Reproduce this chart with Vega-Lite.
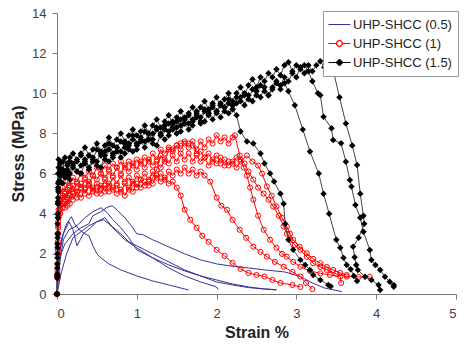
{
"$schema":"https://vega.github.io/schema/vega-lite/v6.json",
"width":399,"height":281,"autosize":"none",
"padding":{"left":57,"top":13,"right":9,"bottom":51},
"background":"white",
"config":{"view":{"stroke":null},"font":"Liberation Sans"},
"datasets":{
"blue":[
{"k":1,"x":0,"y":0},{"k":1,"x":0.02,"y":1.2},{"k":1,"x":0.05,"y":2.0},{"k":1,"x":0.1,"y":2.5},{"k":1,"x":0.2,"y":3.0},{"k":1,"x":0.3,"y":3.3},{"k":1,"x":0.4,"y":3.5},{"k":1,"x":0.45,"y":3.9},{"k":1,"x":0.55,"y":4.1},{"k":1,"x":0.62,"y":4.3},{"k":1,"x":0.69,"y":4.4},{"k":1,"x":0.75,"y":4.2},{"k":1,"x":0.85,"y":3.8},{"k":1,"x":0.95,"y":3.3},{"k":1,"x":1.0,"y":3.0},{"k":1,"x":1.08,"y":2.95},{"k":1,"x":1.2,"y":2.7},{"k":1,"x":1.37,"y":2.4},{"k":1,"x":1.6,"y":2.0},{"k":1,"x":1.8,"y":1.7},{"k":1,"x":2.0,"y":1.5},{"k":1,"x":2.2,"y":1.38},{"k":1,"x":2.4,"y":1.3},{"k":1,"x":2.6,"y":1.2},{"k":1,"x":2.85,"y":1.1},{"k":1,"x":3.05,"y":0.87},{"k":1,"x":3.2,"y":0.55},{"k":1,"x":3.35,"y":0.3},{"k":1,"x":3.57,"y":0.12},
{"k":2,"x":0,"y":0},{"k":2,"x":0.03,"y":1.5},{"k":2,"x":0.08,"y":2.7},{"k":2,"x":0.15,"y":3.2},{"k":2,"x":0.25,"y":3.4},{"k":2,"x":0.35,"y":3.8},{"k":2,"x":0.45,"y":4.1},{"k":2,"x":0.55,"y":4.3},{"k":2,"x":0.63,"y":4.05},{"k":2,"x":0.7,"y":3.7},{"k":2,"x":0.8,"y":3.3},{"k":2,"x":0.9,"y":2.8},{"k":2,"x":1.0,"y":2.2},{"k":2,"x":1.2,"y":1.8},{"k":2,"x":1.4,"y":1.45},{"k":2,"x":1.6,"y":1.15},{"k":2,"x":1.8,"y":0.9},{"k":2,"x":2.0,"y":0.7},{"k":2,"x":2.2,"y":0.5},{"k":2,"x":2.4,"y":0.35},{"k":2,"x":2.6,"y":0.25},{"k":2,"x":2.75,"y":0.2},
{"k":3,"x":0,"y":0},{"k":3,"x":0.02,"y":1.8},{"k":3,"x":0.06,"y":2.8},{"k":3,"x":0.12,"y":3.5},{"k":3,"x":0.18,"y":3.85},{"k":3,"x":0.22,"y":3.5},{"k":3,"x":0.28,"y":3.2},{"k":3,"x":0.35,"y":3.0},{"k":3,"x":0.4,"y":2.9},{"k":3,"x":0.45,"y":2.4},{"k":3,"x":0.5,"y":2.0},{"k":3,"x":0.55,"y":1.8},{"k":3,"x":0.65,"y":1.5},{"k":3,"x":0.8,"y":1.2},{"k":3,"x":1.0,"y":0.9},{"k":3,"x":1.2,"y":0.65},{"k":3,"x":1.4,"y":0.45},{"k":3,"x":1.6,"y":0.25},{"k":3,"x":1.65,"y":0.2},
{"k":4,"x":0,"y":0},{"k":4,"x":0.03,"y":2.0},{"k":4,"x":0.08,"y":3.0},{"k":4,"x":0.15,"y":3.6},{"k":4,"x":0.2,"y":3.2},{"k":4,"x":0.25,"y":2.4},{"k":4,"x":0.33,"y":3.0},{"k":4,"x":0.42,"y":3.3},{"k":4,"x":0.5,"y":3.6},{"k":4,"x":0.58,"y":3.7},{"k":4,"x":0.65,"y":3.5},{"k":4,"x":0.75,"y":3.1},{"k":4,"x":0.85,"y":2.7},{"k":4,"x":1.0,"y":2.3},{"k":4,"x":1.2,"y":1.8},{"k":4,"x":1.4,"y":1.3},{"k":4,"x":1.6,"y":0.9},{"k":4,"x":1.8,"y":0.6},{"k":4,"x":2.0,"y":0.35},{"k":4,"x":2.02,"y":0.22},
{"k":5,"x":0,"y":0},{"k":5,"x":0.05,"y":1.0},{"k":5,"x":0.12,"y":2.0},{"k":5,"x":0.2,"y":2.8},{"k":5,"x":0.3,"y":3.1},{"k":5,"x":0.4,"y":3.4},{"k":5,"x":0.5,"y":3.6},{"k":5,"x":0.6,"y":3.8},{"k":5,"x":0.68,"y":3.4},{"k":5,"x":0.8,"y":3.0},{"k":5,"x":0.9,"y":2.6},{"k":5,"x":1.0,"y":2.4},{"k":5,"x":1.2,"y":2.0},{"k":5,"x":1.4,"y":1.6},{"k":5,"x":1.6,"y":1.2},{"k":5,"x":1.8,"y":0.9},{"k":5,"x":2.0,"y":0.6},{"k":5,"x":2.2,"y":0.45},{"k":5,"x":2.4,"y":0.32},{"k":5,"x":2.6,"y":0.25},{"k":5,"x":2.75,"y":0.22}
],
"red":[
{"k":1,"x":0,"y":0},{"k":1,"x":0.005,"y":0.8},{"k":1,"x":0.01,"y":2.0},{"k":1,"x":0.015,"y":3.0},{"k":1,"x":0.02,"y":3.8},{"k":1,"x":0.04,"y":4.0},{"k":1,"x":0.07,"y":4.3},{"k":1,"x":0.1,"y":4.6},{"k":1,"x":0.13,"y":4.4},{"k":1,"x":0.16,"y":4.9},{"k":1,"x":0.2,"y":4.7},{"k":1,"x":0.25,"y":5.1},{"k":1,"x":0.3,"y":4.8},{"k":1,"x":0.35,"y":5.2},{"k":1,"x":0.4,"y":4.9},{"k":1,"x":0.45,"y":5.3},{"k":1,"x":0.5,"y":5.0},{"k":1,"x":0.55,"y":5.4},{"k":1,"x":0.6,"y":5.1},{"k":1,"x":0.65,"y":5.5},{"k":1,"x":0.7,"y":5.2},{"k":1,"x":0.75,"y":5.4},{"k":1,"x":0.8,"y":5.1},{"k":1,"x":0.85,"y":5.5},{"k":1,"x":0.9,"y":5.2},{"k":1,"x":0.95,"y":5.6},{"k":1,"x":1.0,"y":5.3},{"k":1,"x":1.05,"y":5.7},{"k":1,"x":1.1,"y":5.4},{"k":1,"x":1.15,"y":5.6},{"k":1,"x":1.2,"y":5.5},{"k":1,"x":1.25,"y":5.9},{"k":1,"x":1.3,"y":5.6},{"k":1,"x":1.35,"y":5.8},{"k":1,"x":1.4,"y":5.5},{"k":1,"x":1.45,"y":5.6},{"k":1,"x":1.5,"y":5.3},{"k":1,"x":1.55,"y":4.9},{"k":1,"x":1.6,"y":4.2},{"k":1,"x":1.67,"y":3.7},{"k":1,"x":1.75,"y":3.3},{"k":1,"x":1.82,"y":2.9},{"k":1,"x":1.9,"y":2.6},{"k":1,"x":2.0,"y":2.2},{"k":1,"x":2.1,"y":1.9},{"k":1,"x":2.2,"y":1.55},{"k":1,"x":2.3,"y":1.25},{"k":1,"x":2.4,"y":1.05},{"k":1,"x":2.5,"y":0.95},{"k":1,"x":2.6,"y":0.87},{"k":1,"x":2.7,"y":0.7},{"k":1,"x":2.8,"y":0.55},{"k":1,"x":2.95,"y":0.45},{"k":1,"x":3.05,"y":0.35},
{"k":2,"x":0,"y":0},{"k":2,"x":0.005,"y":1.2},{"k":2,"x":0.01,"y":2.6},{"k":2,"x":0.015,"y":3.6},{"k":2,"x":0.02,"y":4.2},{"k":2,"x":0.04,"y":4.5},{"k":2,"x":0.07,"y":4.9},{"k":2,"x":0.1,"y":4.7},{"k":2,"x":0.13,"y":5.2},{"k":2,"x":0.16,"y":5.0},{"k":2,"x":0.2,"y":5.4},{"k":2,"x":0.25,"y":5.1},{"k":2,"x":0.3,"y":5.5},{"k":2,"x":0.35,"y":5.3},{"k":2,"x":0.4,"y":5.6},{"k":2,"x":0.45,"y":5.2},{"k":2,"x":0.5,"y":5.5},{"k":2,"x":0.55,"y":5.3},{"k":2,"x":0.6,"y":5.7},{"k":2,"x":0.65,"y":5.4},{"k":2,"x":0.7,"y":5.8},{"k":2,"x":0.75,"y":5.5},{"k":2,"x":0.8,"y":5.9},{"k":2,"x":0.85,"y":5.6},{"k":2,"x":0.9,"y":5.8},{"k":2,"x":0.95,"y":5.5},{"k":2,"x":1.0,"y":5.9},{"k":2,"x":1.05,"y":5.7},{"k":2,"x":1.1,"y":6.0},{"k":2,"x":1.15,"y":5.7},{"k":2,"x":1.2,"y":6.1},{"k":2,"x":1.25,"y":5.8},{"k":2,"x":1.3,"y":6.0},{"k":2,"x":1.35,"y":5.7},{"k":2,"x":1.4,"y":6.1},{"k":2,"x":1.45,"y":5.9},{"k":2,"x":1.5,"y":6.2},{"k":2,"x":1.55,"y":6.0},{"k":2,"x":1.6,"y":6.3},{"k":2,"x":1.65,"y":6.0},{"k":2,"x":1.7,"y":6.2},{"k":2,"x":1.75,"y":5.9},{"k":2,"x":1.8,"y":6.1},{"k":2,"x":1.85,"y":5.9},{"k":2,"x":1.92,"y":5.6},{"k":2,"x":2.0,"y":4.8},{"k":2,"x":2.06,"y":4.4},{"k":2,"x":2.13,"y":4.2},{"k":2,"x":2.2,"y":3.7},{"k":2,"x":2.29,"y":3.2},{"k":2,"x":2.37,"y":2.8},{"k":2,"x":2.46,"y":2.36},{"k":2,"x":2.55,"y":2.1},{"k":2,"x":2.63,"y":1.86},{"k":2,"x":2.73,"y":1.6},{"k":2,"x":2.84,"y":1.36},{"k":2,"x":2.95,"y":1.1},{"k":2,"x":3.05,"y":0.87},{"k":2,"x":3.12,"y":0.55},{"k":2,"x":3.2,"y":0.25},
{"k":3,"x":0,"y":0},{"k":3,"x":0.005,"y":1.5},{"k":3,"x":0.01,"y":3.0},{"k":3,"x":0.015,"y":4.0},{"k":3,"x":0.02,"y":4.6},{"k":3,"x":0.04,"y":4.9},{"k":3,"x":0.07,"y":5.3},{"k":3,"x":0.1,"y":5.1},{"k":3,"x":0.13,"y":5.6},{"k":3,"x":0.16,"y":5.4},{"k":3,"x":0.2,"y":5.8},{"k":3,"x":0.25,"y":5.6},{"k":3,"x":0.3,"y":6.0},{"k":3,"x":0.35,"y":5.8},{"k":3,"x":0.4,"y":6.1},{"k":3,"x":0.45,"y":5.9},{"k":3,"x":0.5,"y":6.3},{"k":3,"x":0.55,"y":6.0},{"k":3,"x":0.6,"y":6.4},{"k":3,"x":0.65,"y":6.2},{"k":3,"x":0.7,"y":6.5},{"k":3,"x":0.75,"y":6.3},{"k":3,"x":0.8,"y":6.6},{"k":3,"x":0.85,"y":6.3},{"k":3,"x":0.9,"y":6.6},{"k":3,"x":0.95,"y":6.4},{"k":3,"x":1.0,"y":6.7},{"k":3,"x":1.05,"y":6.5},{"k":3,"x":1.1,"y":6.8},{"k":3,"x":1.15,"y":6.6},{"k":3,"x":1.2,"y":7.0},{"k":3,"x":1.25,"y":6.7},{"k":3,"x":1.3,"y":7.2},{"k":3,"x":1.35,"y":7.0},{"k":3,"x":1.4,"y":7.3},{"k":3,"x":1.45,"y":7.1},{"k":3,"x":1.5,"y":7.4},{"k":3,"x":1.55,"y":7.2},{"k":3,"x":1.6,"y":7.5},{"k":3,"x":1.65,"y":7.3},{"k":3,"x":1.7,"y":7.4},{"k":3,"x":1.75,"y":7.2},{"k":3,"x":1.8,"y":7.6},{"k":3,"x":1.85,"y":7.3},{"k":3,"x":1.9,"y":7.7},{"k":3,"x":1.95,"y":7.5},{"k":3,"x":2.0,"y":7.9},{"k":3,"x":2.05,"y":7.6},{"k":3,"x":2.1,"y":7.8},{"k":3,"x":2.15,"y":7.5},{"k":3,"x":2.2,"y":7.8},{"k":3,"x":2.23,"y":7.9},{"k":3,"x":2.29,"y":6.9},{"k":3,"x":2.34,"y":6.3},{"k":3,"x":2.38,"y":5.9},{"k":3,"x":2.42,"y":5.3},{"k":3,"x":2.46,"y":4.7},{"k":3,"x":2.52,"y":3.9},{"k":3,"x":2.59,"y":3.2},{"k":3,"x":2.67,"y":2.7},{"k":3,"x":2.75,"y":2.3},{"k":3,"x":2.82,"y":2.0},{"k":3,"x":2.88,"y":1.86},{"k":3,"x":2.96,"y":1.6},{"k":3,"x":3.05,"y":1.36},{"k":3,"x":3.17,"y":1.15},{"k":3,"x":3.3,"y":1.03},{"k":3,"x":3.42,"y":0.95},{"k":3,"x":3.55,"y":0.87},{"k":3,"x":3.56,"y":0.55},
{"k":4,"x":0,"y":0},{"k":4,"x":0.005,"y":1.0},{"k":4,"x":0.01,"y":2.2},{"k":4,"x":0.015,"y":3.3},{"k":4,"x":0.02,"y":4.0},{"k":4,"x":0.04,"y":4.4},{"k":4,"x":0.07,"y":4.8},{"k":4,"x":0.1,"y":5.0},{"k":4,"x":0.13,"y":4.8},{"k":4,"x":0.16,"y":5.3},{"k":4,"x":0.2,"y":5.1},{"k":4,"x":0.25,"y":5.5},{"k":4,"x":0.3,"y":5.3},{"k":4,"x":0.35,"y":5.7},{"k":4,"x":0.4,"y":5.5},{"k":4,"x":0.45,"y":5.9},{"k":4,"x":0.5,"y":5.7},{"k":4,"x":0.55,"y":6.0},{"k":4,"x":0.6,"y":5.8},{"k":4,"x":0.65,"y":6.1},{"k":4,"x":0.7,"y":5.9},{"k":4,"x":0.75,"y":6.3},{"k":4,"x":0.8,"y":6.0},{"k":4,"x":0.85,"y":6.4},{"k":4,"x":0.9,"y":6.1},{"k":4,"x":0.95,"y":6.5},{"k":4,"x":1.0,"y":6.2},{"k":4,"x":1.05,"y":6.6},{"k":4,"x":1.1,"y":6.3},{"k":4,"x":1.15,"y":6.7},{"k":4,"x":1.2,"y":6.4},{"k":4,"x":1.25,"y":6.6},{"k":4,"x":1.3,"y":6.3},{"k":4,"x":1.35,"y":6.7},{"k":4,"x":1.4,"y":6.5},{"k":4,"x":1.45,"y":6.9},{"k":4,"x":1.5,"y":6.6},{"k":4,"x":1.55,"y":7.0},{"k":4,"x":1.6,"y":6.7},{"k":4,"x":1.65,"y":7.0},{"k":4,"x":1.7,"y":6.6},{"k":4,"x":1.75,"y":6.9},{"k":4,"x":1.8,"y":6.6},{"k":4,"x":1.85,"y":6.8},{"k":4,"x":1.9,"y":6.4},{"k":4,"x":1.95,"y":6.7},{"k":4,"x":2.0,"y":6.5},{"k":4,"x":2.05,"y":6.8},{"k":4,"x":2.1,"y":6.4},{"k":4,"x":2.15,"y":6.6},{"k":4,"x":2.2,"y":6.5},{"k":4,"x":2.25,"y":6.8},{"k":4,"x":2.3,"y":6.7},{"k":4,"x":2.35,"y":6.5},{"k":4,"x":2.4,"y":6.1},{"k":4,"x":2.46,"y":5.7},{"k":4,"x":2.52,"y":5.3},{"k":4,"x":2.59,"y":5.0},{"k":4,"x":2.65,"y":4.7},{"k":4,"x":2.71,"y":4.36},{"k":4,"x":2.78,"y":3.9},{"k":4,"x":2.84,"y":3.36},{"k":4,"x":2.88,"y":3.0},{"k":4,"x":2.92,"y":2.7},{"k":4,"x":2.98,"y":2.45},{"k":4,"x":3.05,"y":2.2},{"k":4,"x":3.13,"y":1.85},{"k":4,"x":3.21,"y":1.53},{"k":4,"x":3.3,"y":1.35},{"k":4,"x":3.38,"y":1.2},{"k":4,"x":3.5,"y":1.0},{"k":4,"x":3.63,"y":0.87},{"k":4,"x":3.78,"y":0.85},{"k":4,"x":3.92,"y":0.85},
{"k":5,"x":0,"y":0},{"k":5,"x":0.005,"y":0.9},{"k":5,"x":0.01,"y":2.4},{"k":5,"x":0.015,"y":3.4},{"k":5,"x":0.02,"y":3.9},{"k":5,"x":0.04,"y":4.2},{"k":5,"x":0.07,"y":4.5},{"k":5,"x":0.1,"y":4.3},{"k":5,"x":0.13,"y":4.7},{"k":5,"x":0.16,"y":4.5},{"k":5,"x":0.2,"y":5.0},{"k":5,"x":0.25,"y":4.8},{"k":5,"x":0.3,"y":5.2},{"k":5,"x":0.35,"y":5.0},{"k":5,"x":0.4,"y":5.4},{"k":5,"x":0.45,"y":5.1},{"k":5,"x":0.5,"y":5.3},{"k":5,"x":0.55,"y":5.0},{"k":5,"x":0.6,"y":5.4},{"k":5,"x":0.65,"y":5.1},{"k":5,"x":0.7,"y":5.3},{"k":5,"x":0.75,"y":5.0},{"k":5,"x":0.8,"y":5.2},{"k":5,"x":0.85,"y":4.9},{"k":5,"x":0.9,"y":5.3},{"k":5,"x":0.95,"y":5.1},{"k":5,"x":1.0,"y":5.5},{"k":5,"x":1.05,"y":5.3},{"k":5,"x":1.1,"y":5.6},{"k":5,"x":1.15,"y":5.4},{"k":5,"x":1.2,"y":5.8},{"k":5,"x":1.25,"y":6.2},{"k":5,"x":1.3,"y":6.9},{"k":5,"x":1.35,"y":6.6},{"k":5,"x":1.4,"y":7.2},{"k":5,"x":1.45,"y":7.2},{"k":5,"x":1.5,"y":7.4},{"k":5,"x":1.55,"y":7.5},{"k":5,"x":1.6,"y":7.6},{"k":5,"x":1.65,"y":7.5},{"k":5,"x":1.7,"y":7.6},{"k":5,"x":1.75,"y":7.0},{"k":5,"x":1.8,"y":7.1},{"k":5,"x":1.85,"y":6.8},{"k":5,"x":1.9,"y":7.0},{"k":5,"x":1.95,"y":6.6},{"k":5,"x":2.0,"y":6.9},{"k":5,"x":2.05,"y":6.5},{"k":5,"x":2.1,"y":6.7},{"k":5,"x":2.15,"y":6.4},{"k":5,"x":2.2,"y":6.6},{"k":5,"x":2.25,"y":6.3},{"k":5,"x":2.3,"y":6.6},{"k":5,"x":2.38,"y":6.9},{"k":5,"x":2.45,"y":6.6},{"k":5,"x":2.52,"y":6.4},{"k":5,"x":2.57,"y":6.0},{"k":5,"x":2.63,"y":5.36},{"k":5,"x":2.69,"y":4.9},{"k":5,"x":2.75,"y":4.36},{"k":5,"x":2.82,"y":3.8},{"k":5,"x":2.88,"y":3.36},{"k":5,"x":2.92,"y":3.0},{"k":5,"x":2.96,"y":2.7},{"k":5,"x":3.04,"y":2.35},{"k":5,"x":3.13,"y":2.03},{"k":5,"x":3.21,"y":1.75},{"k":5,"x":3.3,"y":1.53},{"k":5,"x":3.38,"y":1.35},{"k":5,"x":3.46,"y":1.2},{"k":5,"x":3.55,"y":1.05},{"k":5,"x":3.63,"y":0.95}
],
"black":[
{"k":1,"x":0,"y":0},{"k":1,"x":0.003,"y":0.8},{"k":1,"x":0.005,"y":1.5},{"k":1,"x":0.008,"y":2.3},{"k":1,"x":0.01,"y":3},{"k":1,"x":0.013,"y":3.8},{"k":1,"x":0.015,"y":4.5},{"k":1,"x":0.018,"y":5.1},{"k":1,"x":0.02,"y":5.6},{"k":1,"x":0.04,"y":5.9},{"k":1,"x":0.07,"y":5.5},{"k":1,"x":0.1,"y":6.1},{"k":1,"x":0.13,"y":5.9},{"k":1,"x":0.16,"y":5.7},{"k":1,"x":0.2,"y":6.3},{"k":1,"x":0.25,"y":6.1},{"k":1,"x":0.3,"y":6.0},{"k":1,"x":0.35,"y":6.5},{"k":1,"x":0.4,"y":6.2},{"k":1,"x":0.45,"y":6.6},{"k":1,"x":0.5,"y":6.4},{"k":1,"x":0.55,"y":6.3},{"k":1,"x":0.6,"y":6.9},{"k":1,"x":0.65,"y":6.6},{"k":1,"x":0.7,"y":6.8},{"k":1,"x":0.75,"y":7.1},{"k":1,"x":0.8,"y":6.8},{"k":1,"x":0.85,"y":7.0},{"k":1,"x":0.9,"y":7.4},{"k":1,"x":0.95,"y":7.1},{"k":1,"x":1.0,"y":7.2},{"k":1,"x":1.05,"y":7.6},{"k":1,"x":1.1,"y":7.3},{"k":1,"x":1.15,"y":7.7},{"k":1,"x":1.2,"y":7.5},{"k":1,"x":1.25,"y":7.4},{"k":1,"x":1.3,"y":8.0},{"k":1,"x":1.35,"y":7.7},{"k":1,"x":1.4,"y":7.9},{"k":1,"x":1.45,"y":8.3},{"k":1,"x":1.5,"y":8.0},{"k":1,"x":1.55,"y":8.1},{"k":1,"x":1.6,"y":8.5},{"k":1,"x":1.65,"y":8.2},{"k":1,"x":1.7,"y":8.4},{"k":1,"x":1.75,"y":8.8},{"k":1,"x":1.8,"y":8.5},{"k":1,"x":1.85,"y":8.6},{"k":1,"x":1.9,"y":9.0},{"k":1,"x":1.95,"y":8.7},{"k":1,"x":2.0,"y":9.1},{"k":1,"x":2.05,"y":8.8},{"k":1,"x":2.1,"y":9.3},{"k":1,"x":2.15,"y":9.0},{"k":1,"x":2.2,"y":9.2},{"k":1,"x":2.25,"y":8.9},{"k":1,"x":2.3,"y":8.1},{"k":1,"x":2.38,"y":7.6},{"k":1,"x":2.46,"y":7.5},{"k":1,"x":2.55,"y":7.0},{"k":1,"x":2.6,"y":6.5},{"k":1,"x":2.67,"y":6.0},{"k":1,"x":2.72,"y":5.6},{"k":1,"x":2.8,"y":5.0},{"k":1,"x":2.84,"y":4.5},{"k":1,"x":2.86,"y":3.5},{"k":1,"x":2.9,"y":2.7},{"k":1,"x":2.96,"y":2.2},{"k":1,"x":3.05,"y":1.7},{"k":1,"x":3.11,"y":1.45},{"k":1,"x":3.17,"y":1.2},{"k":1,"x":3.21,"y":0.95},{"k":1,"x":3.3,"y":0.7},{"k":1,"x":3.4,"y":0.45},{"k":1,"x":3.43,"y":0.38},
{"k":2,"x":0,"y":0},{"k":2,"x":0.003,"y":1.0},{"k":2,"x":0.005,"y":2},{"k":2,"x":0.008,"y":3.0},{"k":2,"x":0.01,"y":4},{"k":2,"x":0.013,"y":4.8},{"k":2,"x":0.015,"y":5.5},{"k":2,"x":0.02,"y":6.3},{"k":2,"x":0.04,"y":6.2},{"k":2,"x":0.07,"y":6.6},{"k":2,"x":0.1,"y":6.0},{"k":2,"x":0.13,"y":6.5},{"k":2,"x":0.16,"y":6.8},{"k":2,"x":0.2,"y":6.4},{"k":2,"x":0.25,"y":6.6},{"k":2,"x":0.3,"y":7.0},{"k":2,"x":0.35,"y":6.6},{"k":2,"x":0.4,"y":6.9},{"k":2,"x":0.45,"y":6.7},{"k":2,"x":0.5,"y":7.2},{"k":2,"x":0.55,"y":6.9},{"k":2,"x":0.6,"y":7.1},{"k":2,"x":0.65,"y":7.5},{"k":2,"x":0.7,"y":7.0},{"k":2,"x":0.75,"y":7.3},{"k":2,"x":0.8,"y":7.6},{"k":2,"x":0.85,"y":7.3},{"k":2,"x":0.9,"y":7.5},{"k":2,"x":0.95,"y":7.9},{"k":2,"x":1.0,"y":7.5},{"k":2,"x":1.05,"y":7.7},{"k":2,"x":1.1,"y":8.1},{"k":2,"x":1.15,"y":7.7},{"k":2,"x":1.2,"y":8.0},{"k":2,"x":1.25,"y":8.3},{"k":2,"x":1.3,"y":7.9},{"k":2,"x":1.35,"y":8.2},{"k":2,"x":1.4,"y":8.5},{"k":2,"x":1.45,"y":8.2},{"k":2,"x":1.5,"y":8.6},{"k":2,"x":1.55,"y":8.4},{"k":2,"x":1.6,"y":8.8},{"k":2,"x":1.65,"y":8.5},{"k":2,"x":1.7,"y":8.7},{"k":2,"x":1.75,"y":9.0},{"k":2,"x":1.8,"y":8.6},{"k":2,"x":1.85,"y":9.1},{"k":2,"x":1.9,"y":8.9},{"k":2,"x":1.95,"y":9.3},{"k":2,"x":2.0,"y":9.0},{"k":2,"x":2.05,"y":9.4},{"k":2,"x":2.1,"y":9.1},{"k":2,"x":2.15,"y":9.5},{"k":2,"x":2.2,"y":9.2},{"k":2,"x":2.25,"y":9.5},{"k":2,"x":2.3,"y":9.8},{"k":2,"x":2.35,"y":9.4},{"k":2,"x":2.4,"y":9.9},{"k":2,"x":2.45,"y":9.6},{"k":2,"x":2.5,"y":10.1},{"k":2,"x":2.55,"y":9.8},{"k":2,"x":2.6,"y":10.3},{"k":2,"x":2.65,"y":9.9},{"k":2,"x":2.7,"y":10.2},{"k":2,"x":2.75,"y":10.5},{"k":2,"x":2.8,"y":10.2},{"k":2,"x":2.85,"y":10.5},{"k":2,"x":2.9,"y":10.1},{"k":2,"x":2.98,"y":9.4},{"k":2,"x":3.08,"y":8.2},{"k":2,"x":3.17,"y":7.1},{"k":2,"x":3.28,"y":6.0},{"k":2,"x":3.34,"y":5.0},{"k":2,"x":3.41,"y":4.0},{"k":2,"x":3.5,"y":2.7},{"k":2,"x":3.55,"y":2.3},{"k":2,"x":3.59,"y":1.8},{"k":2,"x":3.63,"y":1.45},{"k":2,"x":3.68,"y":1.23},{"k":2,"x":3.72,"y":0.9},{"k":2,"x":3.76,"y":0.65},
{"k":3,"x":0,"y":0},{"k":3,"x":0.003,"y":1.3},{"k":3,"x":0.005,"y":2.5},{"k":3,"x":0.008,"y":3.5},{"k":3,"x":0.01,"y":4.5},{"k":3,"x":0.013,"y":5.3},{"k":3,"x":0.015,"y":6.0},{"k":3,"x":0.02,"y":6.7},{"k":3,"x":0.04,"y":6.5},{"k":3,"x":0.07,"y":6.2},{"k":3,"x":0.1,"y":6.8},{"k":3,"x":0.13,"y":6.4},{"k":3,"x":0.16,"y":6.6},{"k":3,"x":0.2,"y":7.0},{"k":3,"x":0.25,"y":6.7},{"k":3,"x":0.3,"y":6.9},{"k":3,"x":0.35,"y":7.3},{"k":3,"x":0.4,"y":6.9},{"k":3,"x":0.45,"y":7.2},{"k":3,"x":0.5,"y":7.5},{"k":3,"x":0.55,"y":7.1},{"k":3,"x":0.6,"y":7.4},{"k":3,"x":0.65,"y":7.8},{"k":3,"x":0.7,"y":7.4},{"k":3,"x":0.75,"y":7.7},{"k":3,"x":0.8,"y":8.0},{"k":3,"x":0.85,"y":7.6},{"k":3,"x":0.9,"y":7.9},{"k":3,"x":0.95,"y":8.2},{"k":3,"x":1.0,"y":7.9},{"k":3,"x":1.05,"y":8.1},{"k":3,"x":1.1,"y":8.4},{"k":3,"x":1.15,"y":8.0},{"k":3,"x":1.2,"y":8.4},{"k":3,"x":1.25,"y":8.7},{"k":3,"x":1.3,"y":8.3},{"k":3,"x":1.35,"y":8.6},{"k":3,"x":1.4,"y":8.9},{"k":3,"x":1.45,"y":8.5},{"k":3,"x":1.5,"y":8.8},{"k":3,"x":1.55,"y":9.1},{"k":3,"x":1.6,"y":8.7},{"k":3,"x":1.65,"y":9.0},{"k":3,"x":1.7,"y":9.3},{"k":3,"x":1.75,"y":8.9},{"k":3,"x":1.8,"y":9.3},{"k":3,"x":1.85,"y":9.6},{"k":3,"x":1.9,"y":9.2},{"k":3,"x":1.95,"y":9.5},{"k":3,"x":2.0,"y":9.8},{"k":3,"x":2.05,"y":9.4},{"k":3,"x":2.1,"y":9.7},{"k":3,"x":2.15,"y":10.0},{"k":3,"x":2.2,"y":9.6},{"k":3,"x":2.25,"y":10.0},{"k":3,"x":2.3,"y":10.3},{"k":3,"x":2.35,"y":9.9},{"k":3,"x":2.4,"y":10.4},{"k":3,"x":2.45,"y":10.7},{"k":3,"x":2.5,"y":10.3},{"k":3,"x":2.55,"y":10.8},{"k":3,"x":2.6,"y":10.6},{"k":3,"x":2.65,"y":11.0},{"k":3,"x":2.7,"y":10.8},{"k":3,"x":2.75,"y":11.2},{"k":3,"x":2.8,"y":10.9},{"k":3,"x":2.85,"y":11.4},{"k":3,"x":2.9,"y":11.55},{"k":3,"x":2.95,"y":11.1},{"k":3,"x":3.0,"y":11.4},{"k":3,"x":3.05,"y":11.2},{"k":3,"x":3.1,"y":11.4},{"k":3,"x":3.15,"y":11.1},{"k":3,"x":3.2,"y":10.6},{"k":3,"x":3.27,"y":10.0},{"k":3,"x":3.3,"y":9.9},{"k":3,"x":3.34,"y":8.83},{"k":3,"x":3.44,"y":8.26},{"k":3,"x":3.46,"y":7.67},{"k":3,"x":3.56,"y":7.51},{"k":3,"x":3.62,"y":6.59},{"k":3,"x":3.67,"y":5.68},{"k":3,"x":3.69,"y":5.35},{"k":3,"x":3.74,"y":4.43},{"k":3,"x":3.8,"y":3.8},{"k":3,"x":3.84,"y":3.1},{"k":3,"x":3.92,"y":2.19},{"k":3,"x":3.94,"y":1.69},{"k":3,"x":3.99,"y":1.45},{"k":3,"x":4.05,"y":1.2},{"k":3,"x":4.11,"y":0.86},{"k":3,"x":4.17,"y":0.61},{"k":3,"x":4.22,"y":0.45},{"k":3,"x":4.22,"y":0.36},
{"k":4,"x":0,"y":0},{"k":4,"x":0.003,"y":0.9},{"k":4,"x":0.005,"y":1.8},{"k":4,"x":0.008,"y":2.8},{"k":4,"x":0.01,"y":3.8},{"k":4,"x":0.013,"y":4.6},{"k":4,"x":0.015,"y":5.2},{"k":4,"x":0.02,"y":6.0},{"k":4,"x":0.04,"y":5.6},{"k":4,"x":0.07,"y":6.0},{"k":4,"x":0.1,"y":5.8},{"k":4,"x":0.13,"y":6.2},{"k":4,"x":0.16,"y":6.0},{"k":4,"x":0.2,"y":6.5},{"k":4,"x":0.25,"y":6.1},{"k":4,"x":0.3,"y":6.4},{"k":4,"x":0.35,"y":6.7},{"k":4,"x":0.4,"y":6.3},{"k":4,"x":0.45,"y":6.8},{"k":4,"x":0.5,"y":6.6},{"k":4,"x":0.55,"y":7.0},{"k":4,"x":0.6,"y":6.7},{"k":4,"x":0.65,"y":7.2},{"k":4,"x":0.7,"y":6.9},{"k":4,"x":0.75,"y":7.3},{"k":4,"x":0.8,"y":7.1},{"k":4,"x":0.85,"y":7.5},{"k":4,"x":0.9,"y":7.2},{"k":4,"x":0.95,"y":7.7},{"k":4,"x":1.0,"y":7.4},{"k":4,"x":1.05,"y":7.8},{"k":4,"x":1.1,"y":7.6},{"k":4,"x":1.15,"y":8.0},{"k":4,"x":1.2,"y":7.7},{"k":4,"x":1.25,"y":8.2},{"k":4,"x":1.3,"y":7.9},{"k":4,"x":1.35,"y":8.4},{"k":4,"x":1.4,"y":8.1},{"k":4,"x":1.45,"y":8.6},{"k":4,"x":1.5,"y":8.3},{"k":4,"x":1.55,"y":8.7},{"k":4,"x":1.6,"y":8.5},{"k":4,"x":1.65,"y":8.9},{"k":4,"x":1.7,"y":8.6},{"k":4,"x":1.75,"y":9.1},{"k":4,"x":1.8,"y":8.8},{"k":4,"x":1.85,"y":9.2},{"k":4,"x":1.9,"y":9.0},{"k":4,"x":1.95,"y":9.4},{"k":4,"x":2.0,"y":9.1},{"k":4,"x":2.05,"y":9.5},{"k":4,"x":2.1,"y":9.3},{"k":4,"x":2.15,"y":9.7},{"k":4,"x":2.2,"y":9.4},{"k":4,"x":2.25,"y":9.8},{"k":4,"x":2.3,"y":9.6},{"k":4,"x":2.35,"y":10.0},{"k":4,"x":2.4,"y":9.7},{"k":4,"x":2.45,"y":10.2},{"k":4,"x":2.5,"y":9.9},{"k":4,"x":2.55,"y":10.4},{"k":4,"x":2.6,"y":10.1},{"k":4,"x":2.65,"y":9.9},{"k":4,"x":2.7,"y":10.3},{"k":4,"x":2.75,"y":10.6},{"k":4,"x":2.8,"y":10.4},{"k":4,"x":2.85,"y":10.8},{"k":4,"x":2.9,"y":10.6},{"k":4,"x":2.95,"y":11.0},{"k":4,"x":3.0,"y":10.8},{"k":4,"x":3.05,"y":11.3},{"k":4,"x":3.1,"y":11.0},{"k":4,"x":3.15,"y":11.4},{"k":4,"x":3.2,"y":11.1},{"k":4,"x":3.25,"y":11.4},{"k":4,"x":3.3,"y":11.6},{"k":4,"x":3.35,"y":11.3},{"k":4,"x":3.4,"y":11.1},{"k":4,"x":3.46,"y":11.16},{"k":4,"x":3.54,"y":9.8},{"k":4,"x":3.62,"y":8.5},{"k":4,"x":3.7,"y":7.4},{"k":4,"x":3.76,"y":6.43},{"k":4,"x":3.8,"y":5.0},{"k":4,"x":3.84,"y":3.9},{"k":4,"x":3.85,"y":3.5},{"k":4,"x":3.78,"y":2.8},{"k":4,"x":3.71,"y":2.36},{"k":4,"x":3.73,"y":1.83},{"k":4,"x":3.75,"y":1.45},{"k":4,"x":3.77,"y":1.2},{"k":4,"x":3.86,"y":0.86},{"k":4,"x":3.94,"y":0.7},{"k":4,"x":4.03,"y":0.45},{"k":4,"x":4.05,"y":0.2}
]},
"encoding":{
"x":{"field":"x","type":"quantitative","scale":{"domain":[0,5],"nice":false,"zero":false},
 "axis":{"title":"Strain %","values":[0,1,2,3,4,5],"format":"d","grid":false,"tickSize":5,"labelPadding":8,"labelFont":"Liberation Sans","labelFontSize":13,"labelColor":"#404040","titleFont":"Liberation Sans","titleFontSize":16,"titleFontWeight":"bold","titleColor":"#222","titlePadding":4,"domainColor":"#777","tickColor":"#777"}},
"y":{"field":"y","type":"quantitative","scale":{"domain":[0,14],"nice":false,"zero":false},
 "axis":{"title":"Stress (MPa)","values":[0,2,4,6,8,10,12,14],"grid":false,"tickSize":5,"labelPadding":6,"labelFont":"Liberation Sans","labelFontSize":13,"labelColor":"#404040","titleFont":"Liberation Sans","titleFontSize":16,"titleFontWeight":"bold","titleColor":"#222","titlePadding":5,"domainColor":"#777","tickColor":"#777"}},
"detail":{"field":"k","type":"nominal"}
},
"layer":[
{"data":{"name":"blue"},"mark":{"type":"line","strokeWidth":1,"clip":true},
 "encoding":{"order":{"value":null},
 "color":{"datum":"UHP-SHCC (0.5)","type":"nominal",
  "scale":{"domain":["UHP-SHCC (0.5)","UHP-SHCC (1)","UHP-SHCC (1.5)"],"range":["#333399","#ff0000","#000000"]},
  "legend":{"orient":"none","legendX":266,"legendY":-2,"title":null,"fillColor":"white","strokeColor":"#999","padding":6,
   "labelFont":"Liberation Sans","labelFontSize":13,"labelColor":"#222","symbolSize":196,"rowPadding":4,"labelOffset":6,"symbolOffset":3,
   "encode":{"symbols":{"update":{
     "shape":{"signal":"datum.value === 'UHP-SHCC (0.5)' ? 'M-1.57,0H1.57' : datum.value === 'UHP-SHCC (1)' ? 'M-1.57,0H-0.45M0.45,0H1.57M-0.45,0A0.45,0.45 0 1,1 0.45,0A0.45,0.45 0 1,1 -0.45,0ZM-0.38,0A0.38,0.38 0 1,0 0.38,0A0.38,0.38 0 1,0 -0.38,0Z' : 'M-1.57,0H1.57M0,-0.5L0.5,0L0,0.5L-0.5,0Z'"},
     "fill":{"signal":"datum.value === 'UHP-SHCC (1.5)' ? '#000000' : '#ffffff'"},
     "strokeWidth":{"value":1},"opacity":{"value":1}}}}}}}},
{"data":{"name":"red"},"mark":{"type":"line","strokeWidth":1,"clip":true},
 "encoding":{"order":{"value":null},"color":{"datum":"UHP-SHCC (1)","type":"nominal"}}},
{"data":{"name":"red"},"mark":{"type":"point","shape":"circle","filled":false,"size":26,"strokeWidth":1,"opacity":1},
 "encoding":{"color":{"datum":"UHP-SHCC (1)","type":"nominal"}}},
{"data":{"name":"black"},"mark":{"type":"line","strokeWidth":1,"color":"#444"},
 "encoding":{"order":{"value":null}}},
{"data":{"name":"black"},"mark":{"type":"point","shape":"diamond","filled":true,"size":42,"opacity":1},
 "encoding":{"color":{"datum":"UHP-SHCC (1.5)","type":"nominal"}}}
]
}
